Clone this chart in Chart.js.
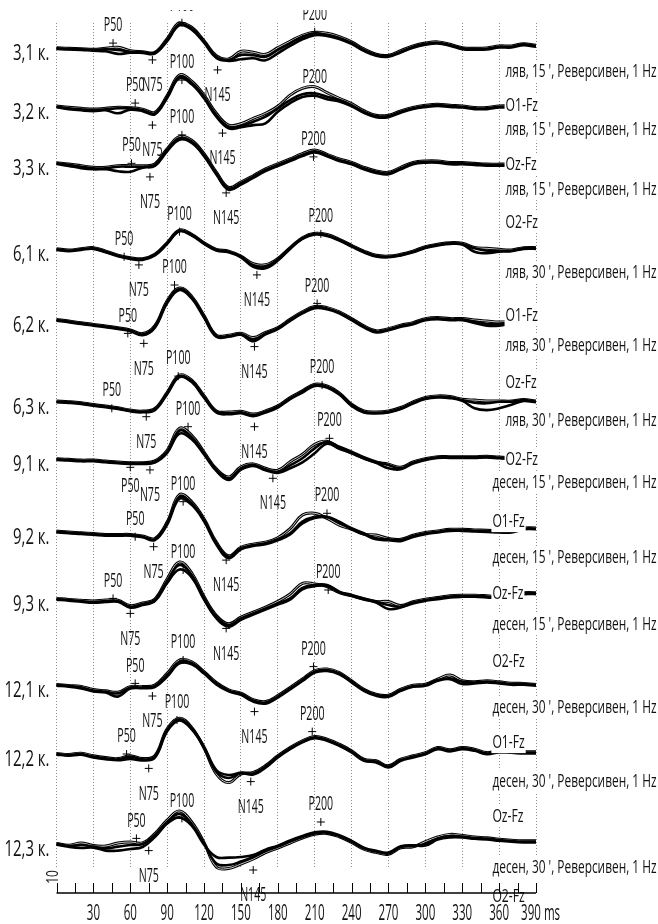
<!DOCTYPE html>
<html>
<head>
<meta charset="utf-8">
<script src="https://cdn.jsdelivr.net/npm/chart.js@4.4.1/dist/chart.umd.min.js"></script>
<style>
  html, body { margin: 0; padding: 0; background: #fff; }
  canvas { display: block; }
</style>
</head>
<body>
<canvas id="vep" width="658" height="924"></canvas>
<script>
// Sample times of every averaged VEP trace (ms after reversal)
const timesMs = [0,10,20,30,40,50,60,70,80,90,100,110,120,130,140,150,160,170,180,190,200,
                 210,220,230,240,250,260,270,280,290,300,310,320,330,340,350,360,370,380,390,400];

// Axis tick labels (ms)
const tickMs = [30,60,90,120,150,180,210,240,270,300,330,360,390];

// Recording rows: label, eye, minutes of adaptation, derivation
const rowLabels = ['3,1 к.','3,2 к.','3,3 к.','6,1 к.','6,2 к.','6,3 к.',
                   '9,1 к.','9,2 к.','9,3 к.','12,1 к.','12,2 к.','12,3 к.'];
const rowEye = ['ляв','ляв','ляв','ляв','ляв','ляв','десен','десен','десен','десен','десен','десен'];
const rowMinutes = [15,15,15,30,30,30,15,15,15,30,30,30];
const rowChannel = ['O1-Fz','Oz-Fz','O2-Fz','O1-Fz','Oz-Fz','O2-Fz',
                    'O1-Fz','Oz-Fz','O2-Fz','O1-Fz','Oz-Fz','O2-Fz'];

// Component names and their latency / amplitude marks (ms, µV) per row
const peakNames = ['P50','N75','P100','N145','P200'];
const pk31  = [[46,2.6],[78,-5.8],[102,12.8],[131,-10.8],[210,8.2]];
const pk32  = [[64,1.8],[78,-9.2],[102,13.3],[135,-13.2],[210,5.8]];
const pk33  = [[61,0],[76,-6.8],[102,14.2],[138,-14.8],[209,3.2]];
const pk61  = [[55,-3.7],[67,-7.8],[100,8.8],[163,-12.8],[215,7.7]];
const pk62  = [[58,-6.7],[71,-11.7],[96,17.5],[161,-13.3],[212,8.3]];
const pk63  = [[45,-3.3],[73,-7.5],[99,12.8],[161,-12.5],[216,8.3]];
const pk91  = [[60,-4],[76,-5.3],[107,16.3],[176,-9.5],[222,10.5]];
const pk92  = [[64,-2.5],[79,-7.5],[103,15],[138,-14.2],[220,9.2]];
const pk93  = [[46,0.3],[60,-7.2],[103,14.5],[138,-14.7],[221,4.5]];
const pk121 = [[64,0.8],[78,-5.5],[103,12.5],[161,-13.3],[209,9.2]];
const pk122 = [[57,0],[75,-7.2],[98,17],[158,-13.8],[208,11.2]];
const pk123 = [[65,2.8],[75,-3.3],[102,12.8],[160,-13],[215,11]];

// Averaged responses (µV), three repeated runs per row
const w31a = [0,-0.3,-0.5,-0.8,-0.5,-0.8,-1.7,-2,-2.2,4.2,12,10,3.3,-4.2,-5.8,-3.3,-3.5,-4.2,-0.8,2.5,5.8,7.5,6.7,5.2,2.7,-0.8,-3.3,-3.8,-1.7,0.8,2.2,2.8,1.7,0,-0.3,-0.2,0.8,0.8,2,1.2,1.2];
const w31b = [0.3,0,-0.2,-0.5,0,0.5,-1.2,-1.7,-2,4.8,12.8,10.5,3.8,-3.7,-5.3,-1.5,-2,-3,0.3,3.5,6.5,8,7.5,5.8,3.2,-0.3,-3,-3.5,-1.2,1.2,2.6,3.2,2,0.3,0,0.2,1.2,1.2,2.3,1.5,1.5];
const w31c = [-0.3,-0.6,-0.8,-1.2,-1.5,-2.8,-2.2,-2.3,-2.6,3.6,11.5,9.3,2.8,-4.8,-6.3,-5.5,-5,-6,-2.5,1.2,4.5,6.5,6.2,4.7,2.2,-1.3,-3.7,-4.2,-2.1,0.3,1.8,2.4,1.3,-0.4,-0.7,-0.6,0.4,0.4,1.6,0.8,0.8];

const w32a = [0,-0.8,-1.3,-1.7,-1.3,-0.8,-0.8,-1.7,-3.3,5,15,12,5,-4.2,-10,-9.7,-7.5,-5,-0.8,3.3,6.2,6.7,5,3.3,0.8,-2.5,-4.7,-4.7,-2.5,-0.8,0.3,0.8,0.3,0,-0.8,-0.8,0,0,-0.2,-0.3,-0.3];
const w32b = [0.3,-0.3,-0.8,-1.2,-0.8,-0.3,-0.5,-1.2,-2.8,5.6,15.8,12.8,5.8,-3.3,-9.2,-8.5,-5.8,-3.3,0.2,5.8,9.2,10,7,4.2,1.5,-2,-4.3,-4.3,-2.1,-0.4,0.7,1.2,0.7,0.4,-0.4,-0.4,0.4,0.4,0.2,0,0];
const w32c = [-0.3,-1.2,-1.8,-2.2,-1.8,-3.3,-1.5,-2.2,-3.8,4.4,14.3,11.2,4.2,-5,-10.8,-10.3,-9.2,-8.3,-2.5,1.8,4.8,5.5,3.7,2.6,0.2,-3,-5.2,-5.2,-3,-1.2,-0.2,0.4,-0.1,-0.4,-1.2,-1.2,-0.4,-0.4,-0.5,-0.6,-0.6];

const w33a = [0,-0.8,-1.7,-2.5,-2.5,-1.7,-1.7,-1.7,-0.8,6.7,12.5,10.8,4.2,-5,-12.5,-10,-6.7,-3.3,-0.8,1.7,4.2,6,4,1.7,0,-2.5,-4.2,-5,-2.5,0,0.8,0.8,0,0,-0.3,-0.8,-0.8,-0.5,0,0,0];
const w33b = [0.3,-0.4,-1.2,-2,-2,-1.2,-1.2,-1.2,-0.3,7.3,13.3,11.5,4.8,-4.4,-12,-9.4,-6.2,-2.8,-0.3,2.2,4.8,6.6,4.5,2.2,0.5,-2,-3.8,-4.5,-2,0.4,1.2,1.2,0.4,0.4,0,-0.4,-0.4,-0.2,0.3,0.3,0.3];
const w33c = [-0.3,-1.3,-2.4,-3,-3,-4,-4.2,-2.2,-1.3,6,11.8,10.2,3.6,-5.6,-13.2,-10.7,-7.3,-3.9,-1.4,1.1,3.6,5.4,3.5,1.2,-0.5,-3,-4.8,-5.5,-3,-0.5,0.3,0.3,-0.5,-0.5,-0.8,-1.2,-1.2,-0.9,-0.4,-0.4,-0.4];

const w61a = [0,-0.7,0,0.5,-1.2,-3.2,-4.5,-5,-2.8,3,9.3,7.2,3,-0.3,-1.2,-3.7,-8,-8.5,-5,0.5,5.5,7.7,7,4.7,1.7,-1.2,-3.3,-3.7,-2.8,-1.2,1,2.2,3,2.7,0.5,-0.7,-0.7,-0.7,0.5,0.5,0];
const w61b = [0.3,-0.4,0.3,0.8,-0.9,-2.9,-4.2,-4.7,-2.5,3.3,9.6,7.5,3.3,0,-0.9,-3.4,-7.2,-7.7,-4.6,0.8,5.8,8,7.4,5,2,-0.9,-3,-3.4,-2.5,-0.9,1.3,2.5,3.3,3,0.9,0.5,0,-0.3,0.8,0.8,0.3];
const w61c = [-0.3,-1,-0.3,0.2,-1.5,-3.5,-4.8,-5.3,-3.1,2.7,9,6.9,2.7,-0.6,-1.5,-4,-8.8,-9.5,-5.6,0.2,5.2,7.4,6.7,4.4,1.4,-1.5,-3.6,-4,-3.1,-1.5,0.7,1.9,2.7,2.4,-1.2,-2,-1.2,-1,0.2,0.2,-0.3];

const w62a = [0,-0.8,-1.7,-2.5,-3.3,-4.2,-5.3,-7.2,-3.3,9,15.5,11.3,1.7,-8,-8,-7,-9.7,-6.7,-4.2,0,3.7,6.3,5.8,3.7,0.3,-3.3,-5.8,-4.7,-3,-1.7,0.3,0.8,0.3,0.3,-0.8,-2,-2,-1,0,0,0];
const w62b = [0.3,-0.5,-1.4,-2.2,-3,-3.9,-5,-6.8,-2.8,9.6,16,11.8,2.2,-7.6,-7.6,-6.6,-8.8,-6.2,-3.8,0.4,4.1,6.7,6.2,4.1,0.7,-2.9,-5.4,-4.3,-2.6,-1.3,0.7,1.2,0.7,0.7,0,-0.5,-1,-0.5,0.3,0.3,0.3];
const w62c = [-0.3,-1.1,-2,-2.8,-3.6,-4.5,-5.6,-7.6,-3.8,8.5,15,10.8,1.2,-8.4,-8.4,-7.4,-10.6,-7.2,-4.6,-0.4,3.3,5.9,5.4,3.3,-0.1,-3.7,-6.2,-5.1,-3.4,-2.1,-0.1,0.4,-0.1,-0.1,-1.5,-2.8,-2.8,-1.5,-0.3,-0.3,-0.3];

const w63a = [0,-0.3,-0.8,-1.7,-2.5,-3.3,-4.5,-5,-3.8,4.2,12.8,10.3,2.5,-5,-5.8,-5.3,-6.7,-5,-2.5,1.7,5,8.3,7.5,4,-1.7,-5,-5.5,-5,-3.3,-0.5,1.7,2.5,2.2,0.8,-0.5,-0.8,0,0,0.8,0,0];
const w63b = [0.3,0,-0.5,-1.4,-2.2,-3,-4.2,-4.7,-3.4,4.7,13.3,10.8,3,-4.6,-5.2,-4.8,-6.2,-4.6,-2.1,2.1,5.4,8.7,7.9,4.4,-1.3,-4.6,-5.1,-4.6,-2.9,-0.1,2.1,2.9,2.6,1.2,0.8,0.4,0.4,0.3,1.1,0.3,0.3];
const w63c = [-0.3,-0.6,-1.1,-2,-2.8,-3.6,-4.8,-5.3,-4.2,3.8,12.3,9.8,2,-5.4,-6.3,-5.8,-7.2,-5.4,-2.9,1.3,4.6,7.9,7.1,3.6,-2.1,-5.4,-5.9,-5.4,-3.7,-0.9,1.3,2.1,1.8,0.4,-3.3,-4.2,-3.3,-1.5,0.4,-0.3,-0.3];

const w91a = [0,-0.3,-0.7,-0.7,-1.2,-1.7,-2,-2,-1.2,3.8,14.3,11,3,-5.3,-9.5,-4.5,-2.8,-5,-6.2,-3,0.5,5.5,8.8,6.3,3.8,1,-1.2,-2.8,-4.5,-1.7,0,1,1,1,1,1.2,0.8,0.5,0.5,0.5,0.5];
const w91b = [0.3,0,-0.4,-0.4,-0.9,-1.4,-1.7,-1.7,-0.8,4.5,15.5,12,3.6,-4.8,-8.8,-3.8,-2.3,-4.5,-5.5,-1.2,2.5,7.5,9,5.8,3.2,0.6,-1.5,-2.4,-4,-1.3,0.3,1.3,1.3,1.3,1.3,1.5,1.1,0.8,0.8,0.8,0.8];
const w91c = [-0.3,-0.6,-1,-1,-1.5,-2,-2.3,-2.3,-1.6,3.2,12.8,10,2.4,-5.8,-10.3,-5.2,-3.3,-5.5,-6.8,-4.5,-1.5,3,7.8,5.3,3,0.4,-1.8,-4.5,-5,-2.1,-0.3,0.7,0.7,0.7,0.7,0.9,0.5,0.2,0.2,0.2,0.2];

const w92a = [0,-0.5,-0.8,-1.2,-1.7,-1.7,-1.7,-2.5,-3.8,4.2,17.5,14.2,5.8,-5.8,-12.5,-8.3,-6.7,-5.8,-3.8,-0.8,5,7.5,7.5,5,1.7,-0.8,-3.3,-3.8,-4.2,-2.2,-0.8,0,0.8,0.8,0.5,0.3,0,0,1.5,1.5,0.5];
const w92b = [0.3,-0.2,-0.5,-0.9,-1.4,-1.4,-1.4,-2.2,-3.4,4.8,18.5,15,6.4,-5.2,-12,-7.8,-6.2,-5.2,-3,1.5,8.3,9.2,6.7,3.3,1.2,-1.2,-1.7,-3.4,-3.8,-1.8,-0.4,0.4,1.2,1.2,0.9,0.7,0.4,0.4,1.8,1.8,0.8];
const w92c = [-0.3,-0.8,-1.1,-1.5,-2,-2,-2,-2.8,-4.2,3.6,16.5,13.4,5.2,-6.4,-13.2,-8.8,-7.2,-6.3,-4.3,-1.4,4.2,6.8,7.2,4.6,1.3,-1.3,-3.8,-4.3,-4.7,-2.6,-1.2,-0.4,0.4,0.4,0.1,-0.1,-0.4,-0.4,1.2,1.2,0.2];

const w93a = [0,-0.5,-1,-1.5,-1,-1,-3.8,-2.5,-0.5,9,17,12,0.5,-8.8,-13,-9.7,-7.2,-4.7,-2.2,0.3,5.5,7,7,3.7,2,0.3,-1.3,-3,-3.8,-1.8,-0.5,0.3,1.2,1.5,1.5,1.2,0.8,1,2.8,2.8,2];
const w93b = [0.3,-0.2,-0.6,-1,-0.5,-0.6,-3.3,-2,0,10,18.5,13,1.2,-8.2,-12.4,-9.1,-6.6,-4.1,-1.2,2.5,7.8,7.5,6.2,3.2,1.6,0,-1.3,-1.3,-3.3,-1.4,-0.1,0.7,1.6,1.9,1.9,1.6,1.2,1.4,3.1,3.1,2.3];
const w93c = [-0.3,-0.8,-1.4,-1.9,-1.5,-1.4,-4.3,-3,-1,8,14.8,10.8,-0.3,-9.6,-13.8,-10.4,-7.8,-5.3,-2.8,-0.3,4.8,6.4,6.6,3.3,1.6,-0.2,-1.8,-5,-4.3,-2.2,-0.9,-0.1,0.8,1.1,1.1,0.8,0.4,0.6,2.4,2.4,1.6];

const w121a = [0,-0.5,-1.2,-2.8,-3.3,-4.2,-1.2,-1.2,-0.5,5,11.5,11,6.2,0.8,-2.8,-4.5,-7.8,-8.8,-5.8,-1.7,2.5,6.7,7.5,5.8,1.7,-2.5,-5,-5.5,-2.5,-0.5,0,2.5,3.3,1.7,1.2,1.7,1.2,0.5,0.5,0,0];
const w121b = [0.3,-0.2,-0.7,-2.3,-2.9,-3.6,-0.8,-0.8,0,5.8,12.5,11.6,6.7,1.3,-2.4,-4.1,-7.3,-8.3,-5.3,-1.2,3,7.2,8,6.2,2.1,-2.1,-4.6,-5.1,-2.1,-0.1,0.4,2.9,5,2.2,1.6,2.1,1.6,0.9,0.8,0.3,0.3];
const w121c = [-0.3,-0.8,-1.7,-3.2,-3.8,-5.8,-1.8,-1.6,-1,4.2,10.8,10.4,5.7,0.3,-3.2,-4.9,-8.3,-9.3,-6.3,-2.2,2,6.2,7,5.4,1.3,-2.9,-5.4,-5.9,-2.9,-0.9,-0.4,2.1,2.9,0.5,0.8,1.3,0.8,0.1,0.2,-0.3,-0.3];

const w122a = [0,-0.5,0,-1.3,-2.2,-2.7,-1.3,-2.7,-1.3,12,17.3,12.8,3.7,-8,-10.5,-9.3,-9.7,-6.3,-1.3,2.8,6.2,8.3,7,4.5,1.2,-3,-3.8,-6.3,-3,-1.3,0.3,2.8,1.7,2.8,2,0.3,1.2,1,0.7,0.7,0.7];
const w122b = [0.3,-0.2,0.4,-0.9,-1.8,-2.3,-0.9,-2.3,-0.8,12.6,17.9,13.3,3,-10,-14.3,-10,-9.2,-5.8,-0.9,3.2,6.6,8.7,7.4,4.9,1.6,-2.6,-3.4,-5.9,-2.6,-0.9,0.7,3.2,2.1,3.2,2.4,0.7,1.6,1.4,1.1,1.1,1.1];
const w122c = [-0.3,-0.8,-0.4,-1.7,-2.6,-3.1,-2.5,-3.2,-1.8,11.4,16.8,12.3,3.2,-8.8,-12,-9.6,-10.2,-6.8,-1.7,2.4,5.8,7.9,6.6,4.1,0.8,-3.4,-4.2,-6.7,-3.4,-1.7,-0.1,2.4,1.3,2.4,1.6,-0.1,0.8,0.6,0.3,0.3,0.3];

const w123a = [0,-1,-0.5,-1.3,-2.2,-1.3,-0.5,0,4.5,11,15,10,0.3,-9.7,-10.5,-8.8,-6.5,-3.5,-1.3,1.2,3.5,5.3,5.7,4,1.2,-2.2,-3.8,-4.7,-1.5,-1,0,2.8,4,3.7,3,2.7,2,1.5,1.2,1.2,1.2];
const w123b = [0.3,-0.6,0.5,-0.8,-1,0.5,1,0.6,5.2,12,16.5,11,0.8,-11.5,-12.2,-10,-7.5,-4.3,-2,0.5,3,4.9,5.3,3.6,0.8,-2.6,-4.2,-5.1,-1.9,-1.4,1.2,3.5,4.8,4.3,3.5,3.1,2.4,1.9,1.6,1.6,1.6];
const w123c = [-0.3,-1.4,-2,-1.8,-3.3,-3.3,-2.5,-1.5,3.5,10.2,13.3,9.2,-0.3,-6.5,-6.8,-6.5,-5.5,-2.8,-0.8,1.8,4,5.8,6.1,4.4,1.6,-1.8,-3.4,-4.3,-1.1,-0.6,-0.8,2.2,3.3,3.3,2.6,2.3,1.6,1.1,0.8,0.8,0.8];

// ---- layout (page pixels) ----
const rowBasePx = [48.3,106.7,163.3,249.3,320,401.7,459.3,531.7,599,685,754,844];
const descYPx   = [70,128.5,188,271,344.6,419.6,481.7,556,623,706,780,866];
const chanYPx   = [104,163,221,314,381,458,520,592.5,660,741,815,895];
const AREA_TOP = 23, AREA_BOTTOM = 867, PX_PER_UV = 2;
const FONT = '"Open Sans", "Liberation Sans", sans-serif';

const runs = [
  [w31a,w31b,w31c],[w32a,w32b,w32c],[w33a,w33b,w33c],
  [w61a,w61b,w61c],[w62a,w62b,w62c],[w63a,w63b,w63c],
  [w91a,w91b,w91c],[w92a,w92b,w92c],[w93a,w93b,w93c],
  [w121a,w121b,w121c],[w122a,w122b,w122c],[w123a,w123b,w123c]
];
const peaks = [pk31,pk32,pk33,pk61,pk62,pk63,pk91,pk92,pk93,pk121,pk122,pk123];
// rows whose P50 caption sits under the mark
const captionBelow = { 6: ['P50'] };

// vertical offset of every row on the shared µV scale
const rowOffset = rowBasePx.map(p => -(p - AREA_TOP) / PX_PER_UV);

// Each run is stroked black; the middle run also gets a thin white core,
// drawn before the other two so it only shows where the runs separate.
const datasets = [];
runs.forEach((set, r) => {
  const pts = vals => vals.map((v, i) => ({ x: timesMs[i], y: rowOffset[r] + v }));
  datasets.push({ data: pts(set[1]), borderColor: '#000', borderWidth: 3, pointRadius: 0, tension: 0.4, clip: false, order: 6 });
  datasets.push({ data: pts(set[1]), borderColor: '#fff', borderWidth: 0.8, pointRadius: 0, tension: 0.4, clip: false, order: 5 });
  datasets.push({ data: pts(set[0]), borderColor: '#000', borderWidth: 2.6, pointRadius: 0, tension: 0.4, clip: false, order: 4 });
  datasets.push({ data: pts(set[2]), borderColor: '#000', borderWidth: 2.6, pointRadius: 0, tension: 0.4, clip: false, order: 4 });
});
const markerPoints = [];
peaks.forEach((list, r) => list.forEach(([t, v]) => markerPoints.push({ x: t, y: rowOffset[r] + v })));
datasets.push({
  data: markerPoints, showLine: false, pointStyle: 'cross', pointRadius: 4,
  pointBorderWidth: 1, borderColor: '#000', clip: false, order: 0
});

function drawText(ctx, str, x, yMid, size, sx, align, bg) {
  ctx.font = size + 'px ' + FONT;
  const w = ctx.measureText(str).width * sx;
  const left = align === 'center' ? x - w / 2 : align === 'right' ? x - w : x;
  const cap = size * 0.714;
  if (bg) {
    ctx.fillStyle = '#fff';
    ctx.fillRect(left - 1, yMid - cap / 2 - 3, w + 2, cap + 3 + size * 0.28);
  }
  ctx.save();
  ctx.translate(left, yMid + cap / 2);
  ctx.scale(sx, 1);
  ctx.fillStyle = '#111';
  ctx.textAlign = 'left';
  ctx.textBaseline = 'alphabetic';
  ctx.fillText(str, 0, 0);
  ctx.restore();
  return { left, w };
}

const annotations = {
  id: 'vepAnnotations',
  afterDatasetsDraw(chart) {
    const { ctx, scales: { x, y }, chartArea } = chart;
    ctx.save();
    ctx.beginPath();
    ctx.rect(0, 10, chart.width, chart.height - 10);
    ctx.clip();

    // component captions
    peaks.forEach((list, r) => {
      list.forEach(([t, v], k) => {
        const name = peakNames[k];
        const px = x.getPixelForValue(t);
        const py = y.getPixelForValue(rowOffset[r] + v);
        let below = name[0] === 'N';
        if (captionBelow[r] && captionBelow[r].includes(name)) below = true;
        const dy = below ? (name[0] === 'N' ? 24 : 18) : -19;
        drawText(ctx, name, px, py + dy, 20, 0.53, 'center', false);
      });
    });

    // row captions on the left
    rowLabels.forEach((s, r) => {
      const base = y.getPixelForValue(rowOffset[r]);
      drawText(ctx, s, 49.5, base + 4, 22, 0.68, 'right', false);
    });

    // recording conditions on the right
    rowLabels.forEach((s, r) => {
      const base = y.getPixelForValue(rowOffset[r]);
      const desc = rowEye[r] + ', ' + rowMinutes[r] + " ', Реверсивен, 1 Hz";
      const d = drawText(ctx, desc, 656.5, base + (descYPx[r] - rowBasePx[r]), 19, 0.625, 'right', true);
      drawText(ctx, rowChannel[r], d.left, base + (chanYPx[r] - rowBasePx[r]), 19, 0.64, 'left', true);
    });

    // time axis
    const axisY = chartArea.bottom + 26;
    const x0 = x.getPixelForValue(0), x1 = x.getPixelForValue(390);
    ctx.strokeStyle = '#000';
    ctx.lineWidth = 1.3;
    ctx.beginPath();
    ctx.moveTo(x0, axisY); ctx.lineTo(x1, axisY);
    ctx.stroke();
    ctx.lineWidth = 1;
    for (let t = 0; t <= 390; t += 15) {
      const px = Math.round(x.getPixelForValue(t)) + 0.5;
      ctx.beginPath();
      ctx.moveTo(px, axisY - 10); ctx.lineTo(px, axisY);
      ctx.stroke();
    }
    tickMs.forEach(t => {
      const px = x.getPixelForValue(t);
      if (t === 390) {
        ctx.font = '21px ' + FONT;
        const w = ctx.measureText('390').width * 0.55;
        drawText(ctx, '390 ms', px - w / 2 - 5, axisY + 20, 21, 0.55, 'left', true);
      } else {
        drawText(ctx, String(t), px, axisY + 20, 21, 0.55, 'center', true);
      }
    });

    // amplitude calibration caption, partly cut at the margin
    ctx.save();
    ctx.beginPath();
    ctx.rect(44, 850, 20, 50);
    ctx.clip();
    ctx.translate(52, 877);
    ctx.rotate(-Math.PI / 2);
    drawText(ctx, '10', 0, 0, 17, 0.7, 'center', false);
    ctx.restore();

    ctx.restore();
  }
};

function build() {
  new Chart(document.getElementById('vep'), {
    type: 'line',
    data: { datasets },
    options: {
      responsive: false,
      animation: false,
      devicePixelRatio: 1,
      layout: { padding: { left: 56.5, right: 122, top: AREA_TOP, bottom: 924 - AREA_BOTTOM } },
      plugins: { legend: { display: false }, tooltip: { enabled: false } },
      scales: {
        x: {
          type: 'linear', min: 0, max: 390,
          ticks: { display: false, stepSize: 30, maxTicksLimit: 20, padding: 0 },
          grid: { color: 'rgba(0,0,0,0.45)', lineWidth: 1, drawTicks: false, tickLength: 0 },
          border: { display: false, dash: [1, 2] }
        },
        y: { display: false, min: -(AREA_BOTTOM - AREA_TOP) / PX_PER_UV, max: 0 }
      }
    },
    plugins: [annotations]
  });
}

if (document.fonts && document.fonts.load) {
  Promise.all([document.fonts.load('19px "Open Sans"'), document.fonts.load('19px "Open Sans"', 'Реверсивен')])
    .then(build, build);
} else {
  build();
}
</script>
</body>
</html>
